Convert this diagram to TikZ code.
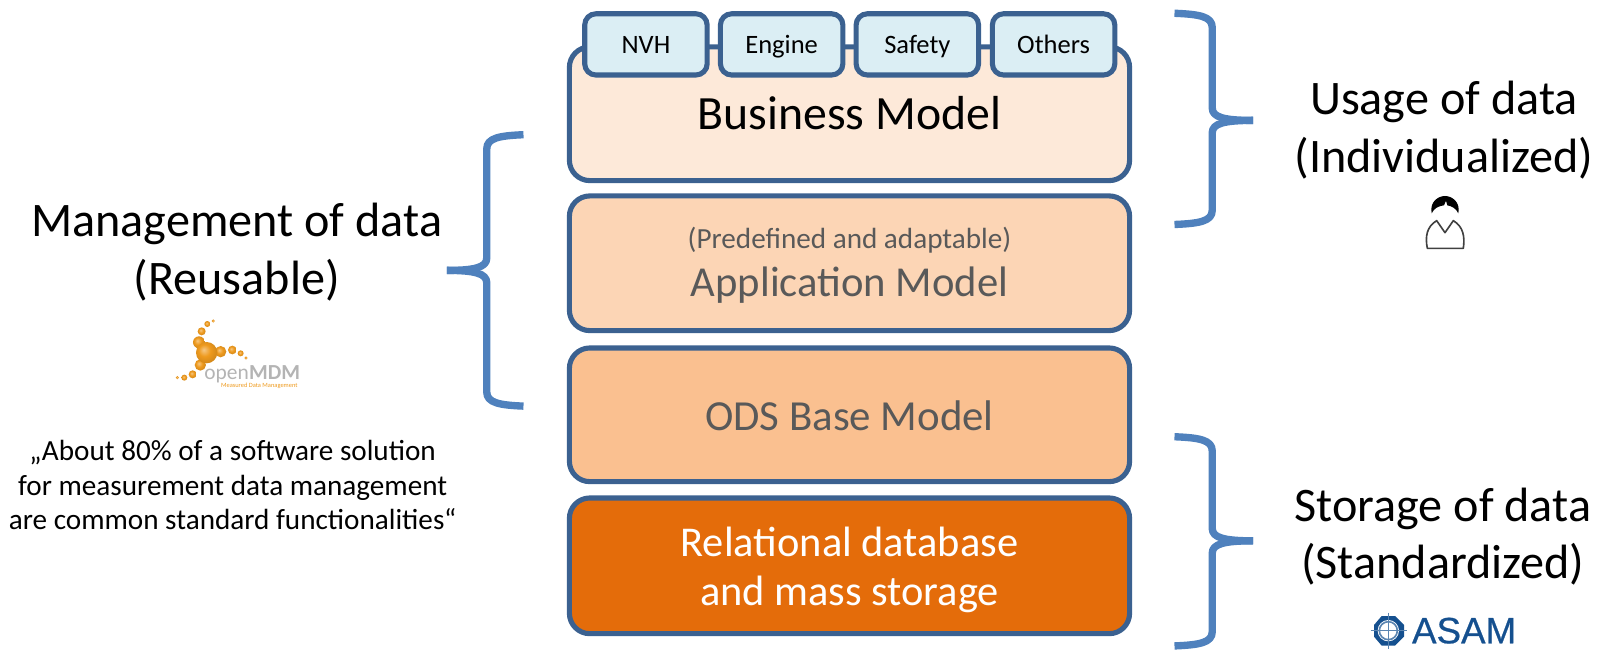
\documentclass[tikz,border=0pt]{standalone}
\usepackage{fontspec}
\setmainfont{Carlito}
\newfontfamily\logofont[FakeBold=0.6]{Liberation Sans}
\definecolor{edge}{HTML}{3B6190}
\definecolor{bracec}{HTML}{4F81BD}
\definecolor{bizfill}{HTML}{FDE9D9}
\definecolor{appfill}{HTML}{FCD5B5}
\definecolor{odsfill}{HTML}{FAC090}
\definecolor{dbfill}{HTML}{E46C0A}
\definecolor{tabfill}{HTML}{DBEEF4}
\definecolor{greytext}{HTML}{595959}
\definecolor{asamblue}{HTML}{15508F}
\definecolor{mdmorange}{HTML}{EE9A1E}
\definecolor{mdmgrey}{HTML}{B4B4B4}
\pgfdeclareradialshading{mdmball}{\pgfpoint{-0.25cm}{0.25cm}}{%
  color(0bp)=(mdmorange!55!white);
  color(14bp)=(mdmorange);
  color(26bp)=(mdmorange!90!black);
  color(50bp)=(mdmorange!90!black)}
\tikzset{
  layer/.style={draw=edge,line width=2.5pt,rounded corners=10pt,minimum width=274.5pt,minimum height=65.5pt,inner sep=0pt,outer sep=0pt,align=center},
  tabbox/.style={draw=edge,line width=2.5pt,fill=tabfill,rounded corners=5.5pt,minimum width=60pt,minimum height=30pt,inner sep=0pt,text height=11pt,text depth=1.8pt,font=\fontsize{13}{15}\selectfont},
  bracep/.style={draw=bracec,line width=3.6pt,line cap=butt,line join=round},
  sidetext/.style={align=center,inner sep=0pt,font=\fontsize{23.6}{28.5}\selectfont},
  sidetextb/.style={align=center,inner sep=0pt,font=\fontsize{23.6}{28}\selectfont},
  quotetext/.style={align=center,inner sep=0pt,font=\fontsize{14.3}{16.8}\selectfont},
  ball/.style={shading=mdmball,draw=none}
}
\newcommand{\bracel}[3]{% top, mid, bottom
  \draw[bracep] (513,#1) .. controls (490,#1+1) and (477,#1+3) .. (477,#1+14)
     -- (477,#2-12) .. controls (477,#2-3) and (465,#2) .. (438,#2);
  \draw[bracep] (438,#2) .. controls (465,#2) and (477,#2+3) .. (477,#2+12)
     -- (477,#3-14) .. controls (477,#3-3) and (490,#3-1) .. (513,#3);
}
\newcommand{\bracer}[3]{%
  \draw[bracep] (1151,#1) .. controls (1175,#1+1) and (1188,#1+3) .. (1188,#1+14)
     -- (1188,#2-12) .. controls (1188,#2-3) and (1200,#2) .. (1228,#2);
  \draw[bracep] (1228,#2) .. controls (1200,#2) and (1188,#2+3) .. (1188,#2+12)
     -- (1188,#3-14) .. controls (1188,#3-3) and (1175,#3-1) .. (1151,#3);
}
\begin{document}
\begin{tikzpicture}[x=0.5pt,y=-0.5pt]
\useasboundingbox (0,0) rectangle (1568,637);
% layers
\node[layer,fill=bizfill] (biz) at (832.5,111.5) {};
\node[layer,fill=appfill,minimum height=66pt] (app) at (832.5,258) {};
\node[layer,fill=odsfill] (ods) at (832.5,406.5) {};
\node[layer,fill=dbfill,minimum height=66.5pt] (db) at (832.5,554.5) {};
% layer texts
\node[inner sep=0pt,font=\fontsize{23.4}{27}\selectfont] (biztext) at (832.5,111) {Business Model};
\node[inner sep=0pt,text=greytext,font=\fontsize{14.3}{16}\selectfont] (apptextsmall) at (832.5,235) {(Predefined and adaptable)};
\node[inner sep=0pt,text=greytext,font=\fontsize{20.9}{27}\selectfont] (apptext) at (832.5,279) {Application Model};
\node[inner sep=0pt,text=greytext,font=\fontsize{21}{27}\selectfont] (odstext) at (832.5,407) {ODS Base Model};
\node[inner sep=0pt,text=white,align=center,font=\fontsize{20.8}{24}\selectfont] (dbtext) at (832.5,558.5) {Relational database\\and mass storage};
% tabs
\node[tabbox] (nvh) at (633,43.5) {NVH};
\node[tabbox] (engine) at (766,43.5) {Engine};
\node[tabbox] (safety) at (899,43.5) {Safety};
\node[tabbox] (others) at (1032.5,43.5) {Others};
% braces
\bracel{132}{265}{398}
\bracer{13}{118}{220}
\bracer{428}{530}{633}
% side texts
\node[sidetext] (mgmt) at (232,247) {Management of data\\(Reusable)};
\node[sidetextb] (usage) at (1415,127.5) {Usage of data\\(Individualized)};
\node[sidetextb] (storage) at (1414,525.5) {Storage of data\\(Standardized)};
\node[quotetext] (quote) at (228,475.5) {„About 80\% of a software solution\\for measurement data management\\are common standard functionalities“};
% openMDM logo
\begin{scope}[shift={(147,294)},x=0.1633pt,y=-0.1633pt]
  \foreach \cx/\cy/\r in {190/63/5,172/72/9,155/94/12,147/127/18,288/174/5,272/160/9,247/150/13,212/155/17,82/233/5,103/233/9,128/223/12,151/195/17,170/158/32}
    \shade[ball] (\cx,\cy) circle (\r);
  \node[anchor=base west,inner sep=0pt,text=mdmgrey,font=\fontsize{10.5}{12}\selectfont] (open) at (162,240) {open};
  \node[anchor=base west,inner sep=0pt,text=mdmgrey,font=\bfseries\fontsize{10.5}{12}\selectfont] (mdm) at (296,240) {MDM};
  \node[anchor=base west,inner sep=0pt,text=mdmorange,font=\fontsize{3.15}{4}\selectfont] (mdmsub) at (212,264) {Measured Data Management};
\end{scope}
% person icon
\begin{scope}[shift={(1342.6,176.4)},x=0.1633pt,y=-0.1633pt]
  \fill[black] (185,100) .. controls (178,65) and (205,48) .. (225,48)
     .. controls (245,48) and (272,65) .. (265,100)
     .. controls (258,85) and (245,78) .. (232,76) -- (228,62) -- (222,76)
     .. controls (205,78) and (192,85) .. (185,100) -- cycle;
  \draw[black!75,line width=0.8pt,line join=round]
     (172,205) .. controls (165,170) and (170,140) .. (200,122) -- (225,158) -- (250,122)
     .. controls (280,140) and (285,170) .. (280,205) -- cycle;
\end{scope}
% ASAM logo
\begin{scope}[shift={(1303.4,578.2)},x=0.1633pt,y=-0.1633pt]
  \fill[asamblue] (155,78) -- (195,78) -- (222,105) -- (222,140) -- (195,167) -- (155,167) -- (132,140) -- (132,105) -- cycle;
  \fill[white] (175,122) circle (32);
  \draw[asamblue!70,line width=0.8pt] (175,122) circle (27);
  \draw[asamblue!70,line width=0.5pt] (175,68) -- (175,176) (122,122) -- (230,122);
  \node[anchor=base west,inner sep=0pt,text=asamblue,font=\logofont\fontsize{18}{18}\selectfont] (asam) at (245,160) {ASAM};
\end{scope}
\end{tikzpicture}
\end{document}
